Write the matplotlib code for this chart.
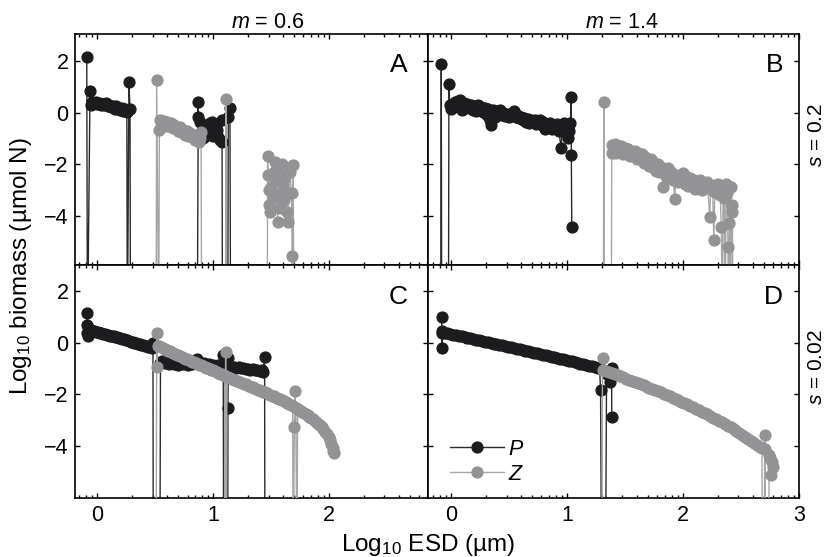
import matplotlib
matplotlib.use('Agg')
import matplotlib.pyplot as plt
import numpy as np

plt.rcParams['font.family'] = ['Liberation Sans', 'DejaVu Sans']
plt.rcParams['mathtext.fontset'] = 'custom'
plt.rcParams['mathtext.rm'] = 'Liberation Sans'
plt.rcParams['mathtext.it'] = 'Liberation Sans:italic'

# ---------------- data: (log10 ESD, log10 biomass); -9 = off-chart (extinct) ----------------
A_P = [(-0.091, 2.14), (-0.085, -9), (-0.063, 0.85), (-0.058, 0.30), (-0.045, 0.42), (-0.03, 0.36),
       (-0.015, 0.40), (0.0, 0.33), (0.015, 0.38), (0.03, 0.28), (0.045, 0.34), (0.06, 0.30),
       (0.075, 0.36), (0.09, 0.25), (0.105, 0.30), (0.12, 0.22), (0.135, 0.27), (0.15, 0.16),
       (0.165, 0.24), (0.18, 0.18), (0.195, 0.12), (0.21, 0.20), (0.225, 0.08), (0.24, 0.15),
       (0.255, 0.02), (0.259, -9), (0.273, 1.20), (0.282, 0.15), (0.286, -9),
       (0.862, -9), (0.871, 0.42), (0.866, -0.16), (0.885, -0.35), (0.90, -0.75), (0.914, -1.00),
       (0.928, -0.55), (0.943, -0.67), (0.958, -0.85), (0.972, -0.40), (0.986, -0.35), (1.0, -0.90),
       (1.015, -0.60), (1.03, -0.67), (1.045, -0.95), (1.058, -1.06), (1.072, -0.29), (1.076, -1.12),
       (1.08, -9), (1.125, -9), (1.13, -0.16), (1.144, 0.17), (1.15, -9)]

A_Z = [(0.507, -9), (0.512, 1.26), (0.53, -9), (0.535, -0.67), (0.545, -0.30), (0.56, -0.45),
       (0.575, -0.33), (0.59, -0.52), (0.605, -0.38), (0.62, -0.50), (0.635, -0.42), (0.65, -0.60),
       (0.665, -0.48), (0.68, -0.58), (0.695, -0.70), (0.71, -0.55), (0.725, -0.75), (0.74, -0.66),
       (0.755, -0.85), (0.77, -0.72), (0.785, -0.90), (0.80, -0.80), (0.815, -0.95), (0.83, -0.86),
       (0.845, -1.05), (0.86, -0.92), (0.875, -1.13), (0.89, -0.98), (0.895, -0.74), (0.90, -9),
       (1.105, -9), (1.11, 0.52), (1.115, -9),
       (1.466, -9), (1.469, -1.68), (1.472, -2.40), (1.48, -3.00), (1.485, -3.58), (1.49, -3.84),
       (1.50, -2.90), (1.515, -3.30), (1.52, -2.30), (1.534, -1.93), (1.545, -2.60), (1.555, -4.23),
       (1.56, -3.20), (1.57, -2.10), (1.58, -3.70), (1.592, -1.98), (1.60, -2.80), (1.61, -3.40),
       (1.62, -2.50), (1.632, -3.84), (1.642, -4.23), (1.65, -3.10), (1.66, -2.30), (1.676, -3.13),
       (1.68, -5.56), (1.685, -9), (1.69, -2.03), (1.696, -9)]

B_P = [(-0.09, -9), (-0.086, 1.885), (-0.082, -9), (-0.024, -9), (-0.02, 1.11), (-0.012, 0.30),
       (0.0, 0.15), (0.012, 0.35), (0.024, 0.22), (0.036, 0.40), (0.048, 0.28), (0.06, 0.45),
       (0.072, 0.50), (0.084, 0.30), (0.096, 0.10), (0.11, 0.38), (0.125, 0.25), (0.14, 0.35),
       (0.155, 0.18), (0.17, 0.28), (0.185, 0.12), (0.20, 0.25), (0.215, 0.05), (0.23, 0.30),
       (0.245, 0.15), (0.26, 0.22), (0.275, 0.02), (0.29, 0.18), (0.305, -0.10), (0.32, 0.15),
       (0.335, -0.30), (0.345, -0.48), (0.36, 0.10), (0.375, -0.15), (0.39, 0.05), (0.405, -0.05),
       (0.42, 0.10), (0.435, -0.08), (0.45, 0.0), (0.465, -0.12), (0.48, -0.05), (0.495, -0.18),
       (0.51, -0.10), (0.525, -0.05), (0.54, 0.05), (0.555, -0.15), (0.57, -0.08), (0.585, -0.22),
       (0.60, -0.15), (0.615, -0.28), (0.63, -0.20), (0.645, -0.35), (0.66, -0.25), (0.675, -0.40),
       (0.69, -0.30), (0.705, -0.38), (0.72, -0.28), (0.735, -0.45), (0.75, -0.35), (0.765, -0.30),
       (0.78, -0.48), (0.795, -0.38), (0.81, -0.62), (0.825, -0.45), (0.84, -0.55), (0.855, -0.40),
       (0.87, -0.65), (0.885, -0.50), (0.90, -0.60), (0.915, -0.45), (0.93, -0.70), (0.948, -1.39),
       (0.96, -0.55), (0.975, -0.40), (0.99, -0.80), (1.0, -0.60), (1.01, -1.00), (1.02, -0.70),
       (1.028, -0.40), (1.034, 0.59), (1.036, -1.65), (1.04, -4.45)]

B_Z = [(1.312, -9), (1.316, 0.42), (1.32, -9), (1.38, -9), (1.385, -1.55), (1.39, -1.25),
       (1.40, -1.40), (1.41, -1.20), (1.42, -1.55), (1.435, -1.30), (1.45, -1.45), (1.465, -1.28),
       (1.48, -1.60), (1.495, -1.38), (1.51, -1.50), (1.525, -1.42), (1.54, -1.70), (1.555, -1.48),
       (1.57, -1.62), (1.585, -1.50), (1.60, -1.80), (1.615, -1.58), (1.63, -1.75), (1.645, -1.60),
       (1.66, -1.95), (1.675, -1.72), (1.69, -1.85), (1.705, -2.05), (1.72, -1.80), (1.735, -2.10),
       (1.75, -1.95), (1.765, -2.25), (1.78, -2.00), (1.795, -2.30), (1.81, -2.10), (1.828, -2.87),
       (1.84, -2.20), (1.855, -2.45), (1.87, -2.15), (1.885, -2.50), (1.90, -2.30), (1.915, -2.60),
       (1.928, -3.36), (1.94, -2.40), (1.955, -2.70), (1.97, -2.45), (1.985, -2.60), (2.00, -2.35),
       (2.015, -2.75), (2.03, -2.50), (2.045, -2.85), (2.06, -2.55), (2.075, -2.70), (2.09, -2.60),
       (2.105, -2.95), (2.12, -2.65), (2.135, -2.85), (2.15, -2.60), (2.165, -3.00), (2.18, -2.75),
       (2.195, -2.90), (2.21, -2.70), (2.23, -4.04), (2.24, -2.85), (2.255, -3.05), (2.265, -4.94),
       (2.275, -2.80), (2.29, -3.10), (2.305, -2.75), (2.32, -3.20), (2.33, -4.43), (2.34, -9),
       (2.345, -2.95), (2.355, -3.30), (2.365, -9), (2.37, -2.75), (2.38, -3.10), (2.388, -5.20),
       (2.392, -9), (2.40, -4.30), (2.405, -2.90), (2.41, -9), (2.417, -2.87), (2.42, -3.60),
       (2.426, -3.84), (2.43, -9)]

C_P = [(-0.091, 1.14), (-0.088, 0.69), (-0.085, 0.36), (-0.08, 0.27), (-0.07, 0.50), (-0.055, 0.47),
       (-0.04, 0.46), (-0.025, 0.43), (-0.01, 0.42), (0.005, 0.40), (0.02, 0.38), (0.035, 0.37),
       (0.05, 0.34), (0.065, 0.33), (0.08, 0.31), (0.095, 0.29), (0.11, 0.27), (0.125, 0.26),
       (0.14, 0.24), (0.155, 0.22), (0.17, 0.20), (0.185, 0.18), (0.20, 0.16), (0.215, 0.14),
       (0.23, 0.12), (0.245, 0.10), (0.26, 0.08), (0.275, 0.06), (0.29, 0.04), (0.305, 0.02),
       (0.32, 0.0), (0.335, -0.02), (0.35, -0.04), (0.365, -0.06), (0.38, -0.08), (0.395, -0.10),
       (0.41, -0.12), (0.425, -0.14), (0.44, -0.16), (0.455, -0.18), (0.47, -0.21), (0.48, -0.03),
       (0.483, -9), (0.54, -9), (0.545, -0.78), (0.56, -0.72), (0.58, -0.80), (0.60, -0.74),
       (0.62, -0.82), (0.64, -0.76), (0.66, -0.84), (0.68, -0.78), (0.70, -0.86), (0.72, -0.74),
       (0.74, -0.84), (0.76, -0.78), (0.78, -0.88), (0.80, -0.72), (0.82, -0.84), (0.84, -0.76),
       (0.86, -0.62), (0.88, -0.80), (0.90, -0.86), (0.92, -0.80), (0.94, -0.90), (0.96, -0.84),
       (0.98, -0.92), (1.00, -0.86), (1.02, -0.94), (1.04, -0.88), (1.06, -0.96), (1.075, -0.90),
       (1.086, -0.48), (1.09, -9), (1.125, -9), (1.127, -2.54), (1.13, -0.60), (1.14, -0.92),
       (1.16, -0.95), (1.18, -0.93), (1.20, -0.98), (1.22, -0.96), (1.24, -1.00), (1.26, -0.98),
       (1.28, -1.03), (1.30, -1.01), (1.32, -1.05), (1.34, -1.03), (1.36, -1.07), (1.38, -1.05),
       (1.40, -1.09), (1.42, -1.08), (1.43, -1.12), (1.443, -0.54), (1.446, -9)]

C_Z = [(0.508, -9), (0.512, 0.36), (0.515, -0.93), (0.52, -0.12), (0.535, -0.15), (0.55, -0.17),
       (0.565, -0.20), (0.58, -0.24), (0.595, -0.27), (0.61, -0.31), (0.625, -0.33), (0.64, -0.37),
       (0.655, -0.40), (0.67, -0.43), (0.685, -0.47), (0.70, -0.50), (0.715, -0.53), (0.73, -0.56),
       (0.745, -0.58), (0.76, -0.62), (0.775, -0.65), (0.79, -0.68), (0.805, -0.71), (0.82, -0.74),
       (0.835, -0.77), (0.85, -0.80), (0.865, -0.83), (0.88, -0.86), (0.895, -0.88), (0.91, -0.92),
       (0.925, -0.95), (0.94, -0.98), (0.955, -1.00), (0.97, -1.03), (0.985, -1.06), (1.00, -1.08),
       (1.015, -1.11), (1.03, -1.14), (1.045, -1.17), (1.06, -1.20), (1.075, -1.23), (1.09, -1.26),
       (1.10, -1.28), (1.102, -9), (1.107, -0.35), (1.112, -9), (1.118, -1.32), (1.13, -1.34),
       (1.145, -1.37), (1.16, -1.40), (1.175, -1.43), (1.19, -1.45), (1.205, -1.48), (1.22, -1.51),
       (1.235, -1.54), (1.25, -1.57), (1.265, -1.60), (1.28, -1.62), (1.295, -1.65), (1.31, -1.68),
       (1.325, -1.71), (1.34, -1.73), (1.355, -1.76), (1.37, -1.79), (1.385, -1.82), (1.40, -1.85),
       (1.415, -1.88), (1.43, -1.90), (1.445, -1.93), (1.46, -1.96), (1.475, -1.99), (1.49, -2.02),
       (1.505, -2.05), (1.52, -2.08), (1.535, -2.11), (1.55, -2.14), (1.565, -2.17), (1.58, -2.20),
       (1.595, -2.24), (1.61, -2.27), (1.625, -2.31), (1.64, -2.35), (1.655, -2.39), (1.67, -2.43),
       (1.685, -2.47), (1.69, -9), (1.70, -3.25), (1.704, -1.87), (1.712, -2.52), (1.722, -9),
       (1.728, -2.56), (1.74, -2.60), (1.755, -2.64), (1.77, -2.68), (1.785, -2.73), (1.80, -2.77),
       (1.815, -2.82), (1.83, -2.87), (1.845, -2.92), (1.86, -2.97), (1.875, -3.02), (1.89, -3.08),
       (1.905, -3.14), (1.92, -3.20), (1.935, -3.28), (1.95, -3.36), (1.965, -3.45), (1.98, -3.55),
       (1.995, -3.66), (2.01, -3.78), (2.02, -3.92), (2.03, -4.06), (2.035, -4.18), (2.038, -4.29)]

D_P = [(-0.083, 0.98), (-0.081, 0.43), (-0.079, -0.22), (-0.077, 0.36), (-0.06, 0.38), (-0.035, 0.36),
       (-0.01, 0.33), (0.015, 0.31), (0.04, 0.29), (0.065, 0.26), (0.09, 0.24), (0.115, 0.21),
       (0.14, 0.19), (0.165, 0.16), (0.19, 0.14), (0.215, 0.11), (0.24, 0.09), (0.265, 0.06),
       (0.29, 0.04), (0.315, 0.01), (0.34, -0.01), (0.365, -0.04), (0.39, -0.06), (0.415, -0.09),
       (0.44, -0.11), (0.465, -0.14), (0.49, -0.16), (0.515, -0.19), (0.54, -0.21), (0.565, -0.24),
       (0.59, -0.26), (0.615, -0.29), (0.64, -0.31), (0.665, -0.34), (0.69, -0.37), (0.715, -0.39),
       (0.74, -0.42), (0.765, -0.44), (0.79, -0.47), (0.815, -0.49), (0.84, -0.52), (0.865, -0.54),
       (0.89, -0.57), (0.915, -0.60), (0.94, -0.62), (0.965, -0.65), (0.99, -0.67), (1.015, -0.70),
       (1.04, -0.73), (1.065, -0.75), (1.09, -0.78), (1.115, -0.81), (1.14, -0.84), (1.165, -0.86),
       (1.19, -0.89), (1.215, -0.92), (1.24, -0.95), (1.265, -0.97), (1.28, -1.00), (1.288, -1.83),
       (1.297, -9), (1.331, -9), (1.34, -1.20), (1.368, -1.51), (1.383, -0.99), (1.385, -2.89)]

D_Z = [(1.30, -9), (1.305, -0.60), (1.31, -1.05), (1.335, -1.09), (1.36, -1.13), (1.385, -1.17),
       (1.41, -1.21), (1.435, -1.25), (1.46, -1.30), (1.485, -1.34), (1.51, -1.39), (1.535, -1.43),
       (1.56, -1.48), (1.585, -1.52), (1.61, -1.57), (1.635, -1.61), (1.66, -1.65), (1.685, -1.70),
       (1.71, -1.74), (1.735, -1.79), (1.76, -1.83), (1.785, -1.88), (1.81, -1.93), (1.835, -1.98),
       (1.86, -2.03), (1.885, -2.08), (1.91, -2.13), (1.935, -2.18), (1.96, -2.23), (1.985, -2.29),
       (2.01, -2.34), (2.035, -2.39), (2.06, -2.45), (2.085, -2.50), (2.11, -2.56), (2.135, -2.61),
       (2.16, -2.67), (2.185, -2.72), (2.21, -2.78), (2.235, -2.84), (2.26, -2.90), (2.285, -2.96),
       (2.31, -3.02), (2.335, -3.08), (2.36, -3.14), (2.385, -3.21), (2.41, -3.28), (2.435, -3.35),
       (2.46, -3.42), (2.485, -3.50), (2.51, -3.58), (2.535, -3.66), (2.56, -3.74), (2.585, -3.82),
       (2.61, -3.89), (2.635, -3.96), (2.66, -4.02), (2.68, -4.08), (2.684, -9), (2.70, -9),
       (2.704, -3.57), (2.708, -4.10), (2.712, -9), (2.738, -9), (2.742, -4.35), (2.75, -4.48),
       (2.76, -5.12), (2.768, -4.62), (2.776, -4.80)]

COL_TITLES = ['$m$ = 0.6', '$m$ = 1.4']
ROW_TITLES = ['$s$ = 0.2', '$s$ = 0.02']
PANEL_LETTERS = ['A', 'B', 'C', 'D']
X_MAJOR = [0, 1, 2, 3]
Y_MAJOR = [-4, -2, 0, 2]
SERIES_LABELS = ['$P$', '$Z$']

# ---------------- layout ----------------
W, H = 827, 557
fig = plt.figure(figsize=(W / 100, H / 100), dpi=100)


def rect(l, t, r, b):
    return [l / W, 1 - b / H, (r - l) / W, (b - t) / H]


panels = {
    'A': dict(rect=rect(74.7, 34.3, 427.7, 265.0), xlim=(-0.195, 2.85), ylim=(-5.91, 3.04), P=A_P, Z=A_Z, col=0, row=0),
    'B': dict(rect=rect(427.7, 34.3, 799.0, 265.0), xlim=(-0.203, 3.0), ylim=(-5.91, 3.04), P=B_P, Z=B_Z, col=1, row=0),
    'C': dict(rect=rect(74.7, 265.0, 427.7, 497.7), xlim=(-0.195, 2.85), ylim=(-6.0, 3.0), P=C_P, Z=C_Z, col=0, row=1),
    'D': dict(rect=rect(427.7, 265.0, 799.0, 497.7), xlim=(-0.203, 3.0), ylim=(-6.0, 3.0), P=D_P, Z=D_Z, col=1, row=1),
}

P_LINE, P_MARK = '#2a2a2a', '#1c1c1e'
Z_LINE, Z_MARK = '#a6a6a6', '#939396'
MS = 7.8
minor_ticks = [np.log10(k) + n for n in range(-1, 3) for k in range(2, 10)]

letter_pos = {'A': (0.944, 0.92), 'B': (0.957, 0.92), 'C': (0.944, 0.915), 'D': (0.957, 0.915)}

for name, p in panels.items():
    ax = fig.add_axes(p['rect'])
    P = np.array(p['P']).T
    Z = np.array(p['Z']).T
    lp, = ax.plot(P[0], P[1], '-o', color=P_LINE, mfc=P_MARK, mec=P_MARK, lw=1.0, ms=MS,
                  label=SERIES_LABELS[0], zorder=2)
    lz, = ax.plot(Z[0], Z[1], '-o', color=Z_LINE, mfc=Z_MARK, mec=Z_MARK, lw=1.0, ms=MS,
                  label=SERIES_LABELS[1], zorder=3)
    x0, x1 = p['xlim']
    ax.set_xticks([t for t in X_MAJOR if x0 <= t <= x1])
    ax.set_xticks([t for t in minor_ticks if x0 < t < x1], minor=True)
    ax.set_yticks(Y_MAJOR)
    ax.set_xlim(x0, x1)
    ax.set_ylim(*p['ylim'])
    ax.tick_params(which='both', direction='in', top=True, right=True, width=1.0, labelsize=15.5)
    ax.tick_params(which='major', length=3.8)
    ax.tick_params(which='minor', length=2.4)
    ax.tick_params(axis='y', pad=4.5)
    ax.tick_params(axis='x', pad=5.5)
    ax.tick_params(labelleft=(p['col'] == 0), labelbottom=(p['row'] == 1))
    for s in ax.spines.values():
        s.set_linewidth(1.2)
    lx, ly = letter_pos[name]
    ax.text(lx, ly, name, transform=ax.transAxes, ha='right', va='top', fontsize=19)
    if name == 'D':
        ax.legend(handles=[lp, lz], loc='lower left', bbox_to_anchor=(0.06, 0.055), frameon=False,
                  fontsize=15.5, handlelength=2.5, handletextpad=0.2, labelspacing=0.2,
                  borderpad=0, borderaxespad=0)

fig.text(268 / W, 1 - 28.3 / H, COL_TITLES[0], ha='center', va='baseline', fontsize=15.5)
fig.text(622 / W, 1 - 28.3 / H, COL_TITLES[1], ha='center', va='baseline', fontsize=15.5)
fig.text(816.5 / W, 1 - 135 / H, ROW_TITLES[0], ha='center', va='center', rotation=90, fontsize=15)
fig.text(816.5 / W, 1 - 367 / H, ROW_TITLES[1], ha='center', va='center', rotation=90, fontsize=15)
fig.text(428 / W, 1 - 551 / H, 'Log$_{10}$ ESD (µm)', ha='center', va='baseline', fontsize=17.5)
fig.text(21 / W, 1 - 266 / H, 'Log$_{10}$ biomass (µmol N)', ha='center', va='center', rotation=90, fontsize=17.5)

fig.savefig('out.png', dpi=100)
